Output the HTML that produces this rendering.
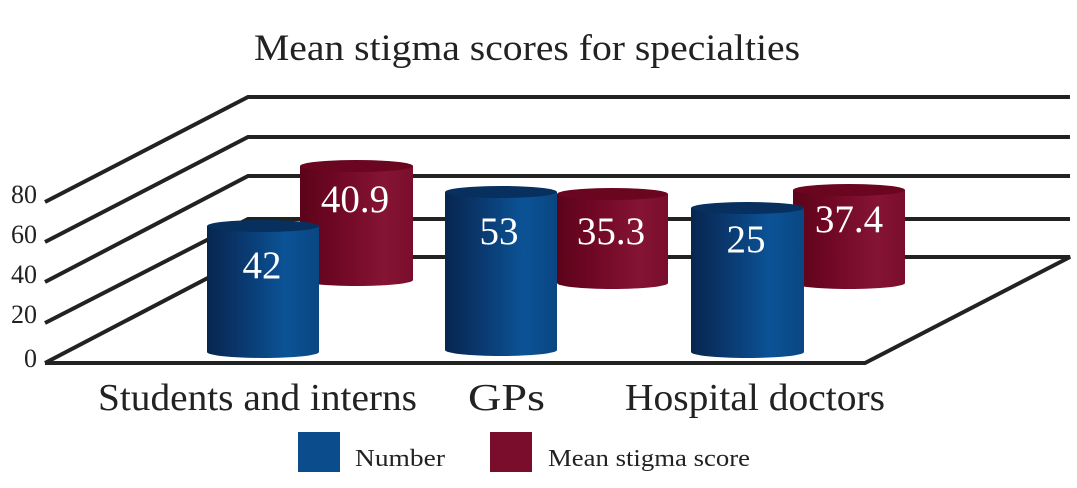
<!DOCTYPE html>
<html><head><meta charset="utf-8"><style>
body{margin:0;background:#fff}
svg text{font-family:"Liberation Serif",serif}
</style></head><body>
<svg width="1077" height="483" viewBox="0 0 1077 483" xmlns="http://www.w3.org/2000/svg">
<defs>
<linearGradient id="b" x1="0" x2="1" y1="0" y2="0">
<stop offset="0" stop-color="#06264f"/><stop offset="0.25" stop-color="#0a3468"/><stop offset="0.7" stop-color="#0b5396"/><stop offset="1" stop-color="#0a4682"/></linearGradient>
<linearGradient id="r" x1="0" x2="1" y1="0" y2="0">
<stop offset="0" stop-color="#5c0419"/><stop offset="0.3" stop-color="#6e0724"/><stop offset="0.75" stop-color="#851434"/><stop offset="1" stop-color="#7a0d2c"/></linearGradient>
</defs>
<text x="254" y="60" font-size="37" textLength="546" lengthAdjust="spacingAndGlyphs" fill="#222">Mean stigma scores for specialties</text>
<g stroke="#222" stroke-width="4" fill="none">
<polyline points="45,202 248,97 1070,97"/>
<polyline points="45,242 248,137 1070,137"/>
<polyline points="45,282 248,176 1070,176"/>
<polyline points="45,323 248,219 1070,219"/>
<polyline points="45,363 248,257 1070,257 865,363 45,363"/>
</g>
<g font-size="26" fill="#222" text-anchor="end">
<text x="37" y="203">80</text><text x="37" y="243">60</text><text x="37" y="283">40</text><text x="37" y="323">20</text><text x="37" y="367">0</text>
</g>
<g>
<path d="M300,166 L300,280 A56.5,6 0 0 0 413,280 L413,166 Z" fill="url(#r)"/><ellipse cx="356.5" cy="166" rx="56.5" ry="6" fill="#6a0620"/>
<path d="M557,194 L557,283 A55.5,6 0 0 0 668,283 L668,194 Z" fill="url(#r)"/><ellipse cx="612.5" cy="194" rx="55.5" ry="6" fill="#6a0620"/>
<path d="M793,190 L793,283 A56,6 0 0 0 905,283 L905,190 Z" fill="url(#r)"/><ellipse cx="849" cy="190" rx="56" ry="6" fill="#6a0620"/>
<path d="M207,226 L207,352 A56,6 0 0 0 319,352 L319,226 Z" fill="url(#b)"/><ellipse cx="263" cy="226" rx="56" ry="6" fill="#08305e"/>
<path d="M445,192 L445,350 A56,6 0 0 0 557,350 L557,192 Z" fill="url(#b)"/><ellipse cx="501" cy="192" rx="56" ry="6" fill="#08305e"/>
<path d="M691,208 L691,352 A56.5,6 0 0 0 804,352 L804,208 Z" fill="url(#b)"/><ellipse cx="747.5" cy="208" rx="56.5" ry="6" fill="#08305e"/>
</g>
<g font-size="39" fill="#fff" text-anchor="middle">
<text x="262" y="278">42</text><text x="355" y="212">40.9</text>
<text x="499" y="244">53</text><text x="611" y="244">35.3</text>
<text x="746" y="252">25</text><text x="849" y="232">37.4</text>
</g>
<g font-size="38" fill="#222">
<text x="98" y="410" textLength="319" lengthAdjust="spacingAndGlyphs">Students and interns</text>
<text x="468" y="410" textLength="77" lengthAdjust="spacingAndGlyphs">GPs</text>
<text x="625" y="410" textLength="260" lengthAdjust="spacingAndGlyphs">Hospital doctors</text>
</g>
<rect x="298" y="432" width="42" height="40" fill="#0a4c8c"/>
<rect x="490" y="432" width="42" height="40" fill="#7a0d2c"/>
<g font-size="24" fill="#222">
<text x="355" y="466" textLength="90" lengthAdjust="spacingAndGlyphs">Number</text>
<text x="548" y="466" textLength="202" lengthAdjust="spacingAndGlyphs">Mean stigma score</text>
</g>
</svg>
</body></html>
